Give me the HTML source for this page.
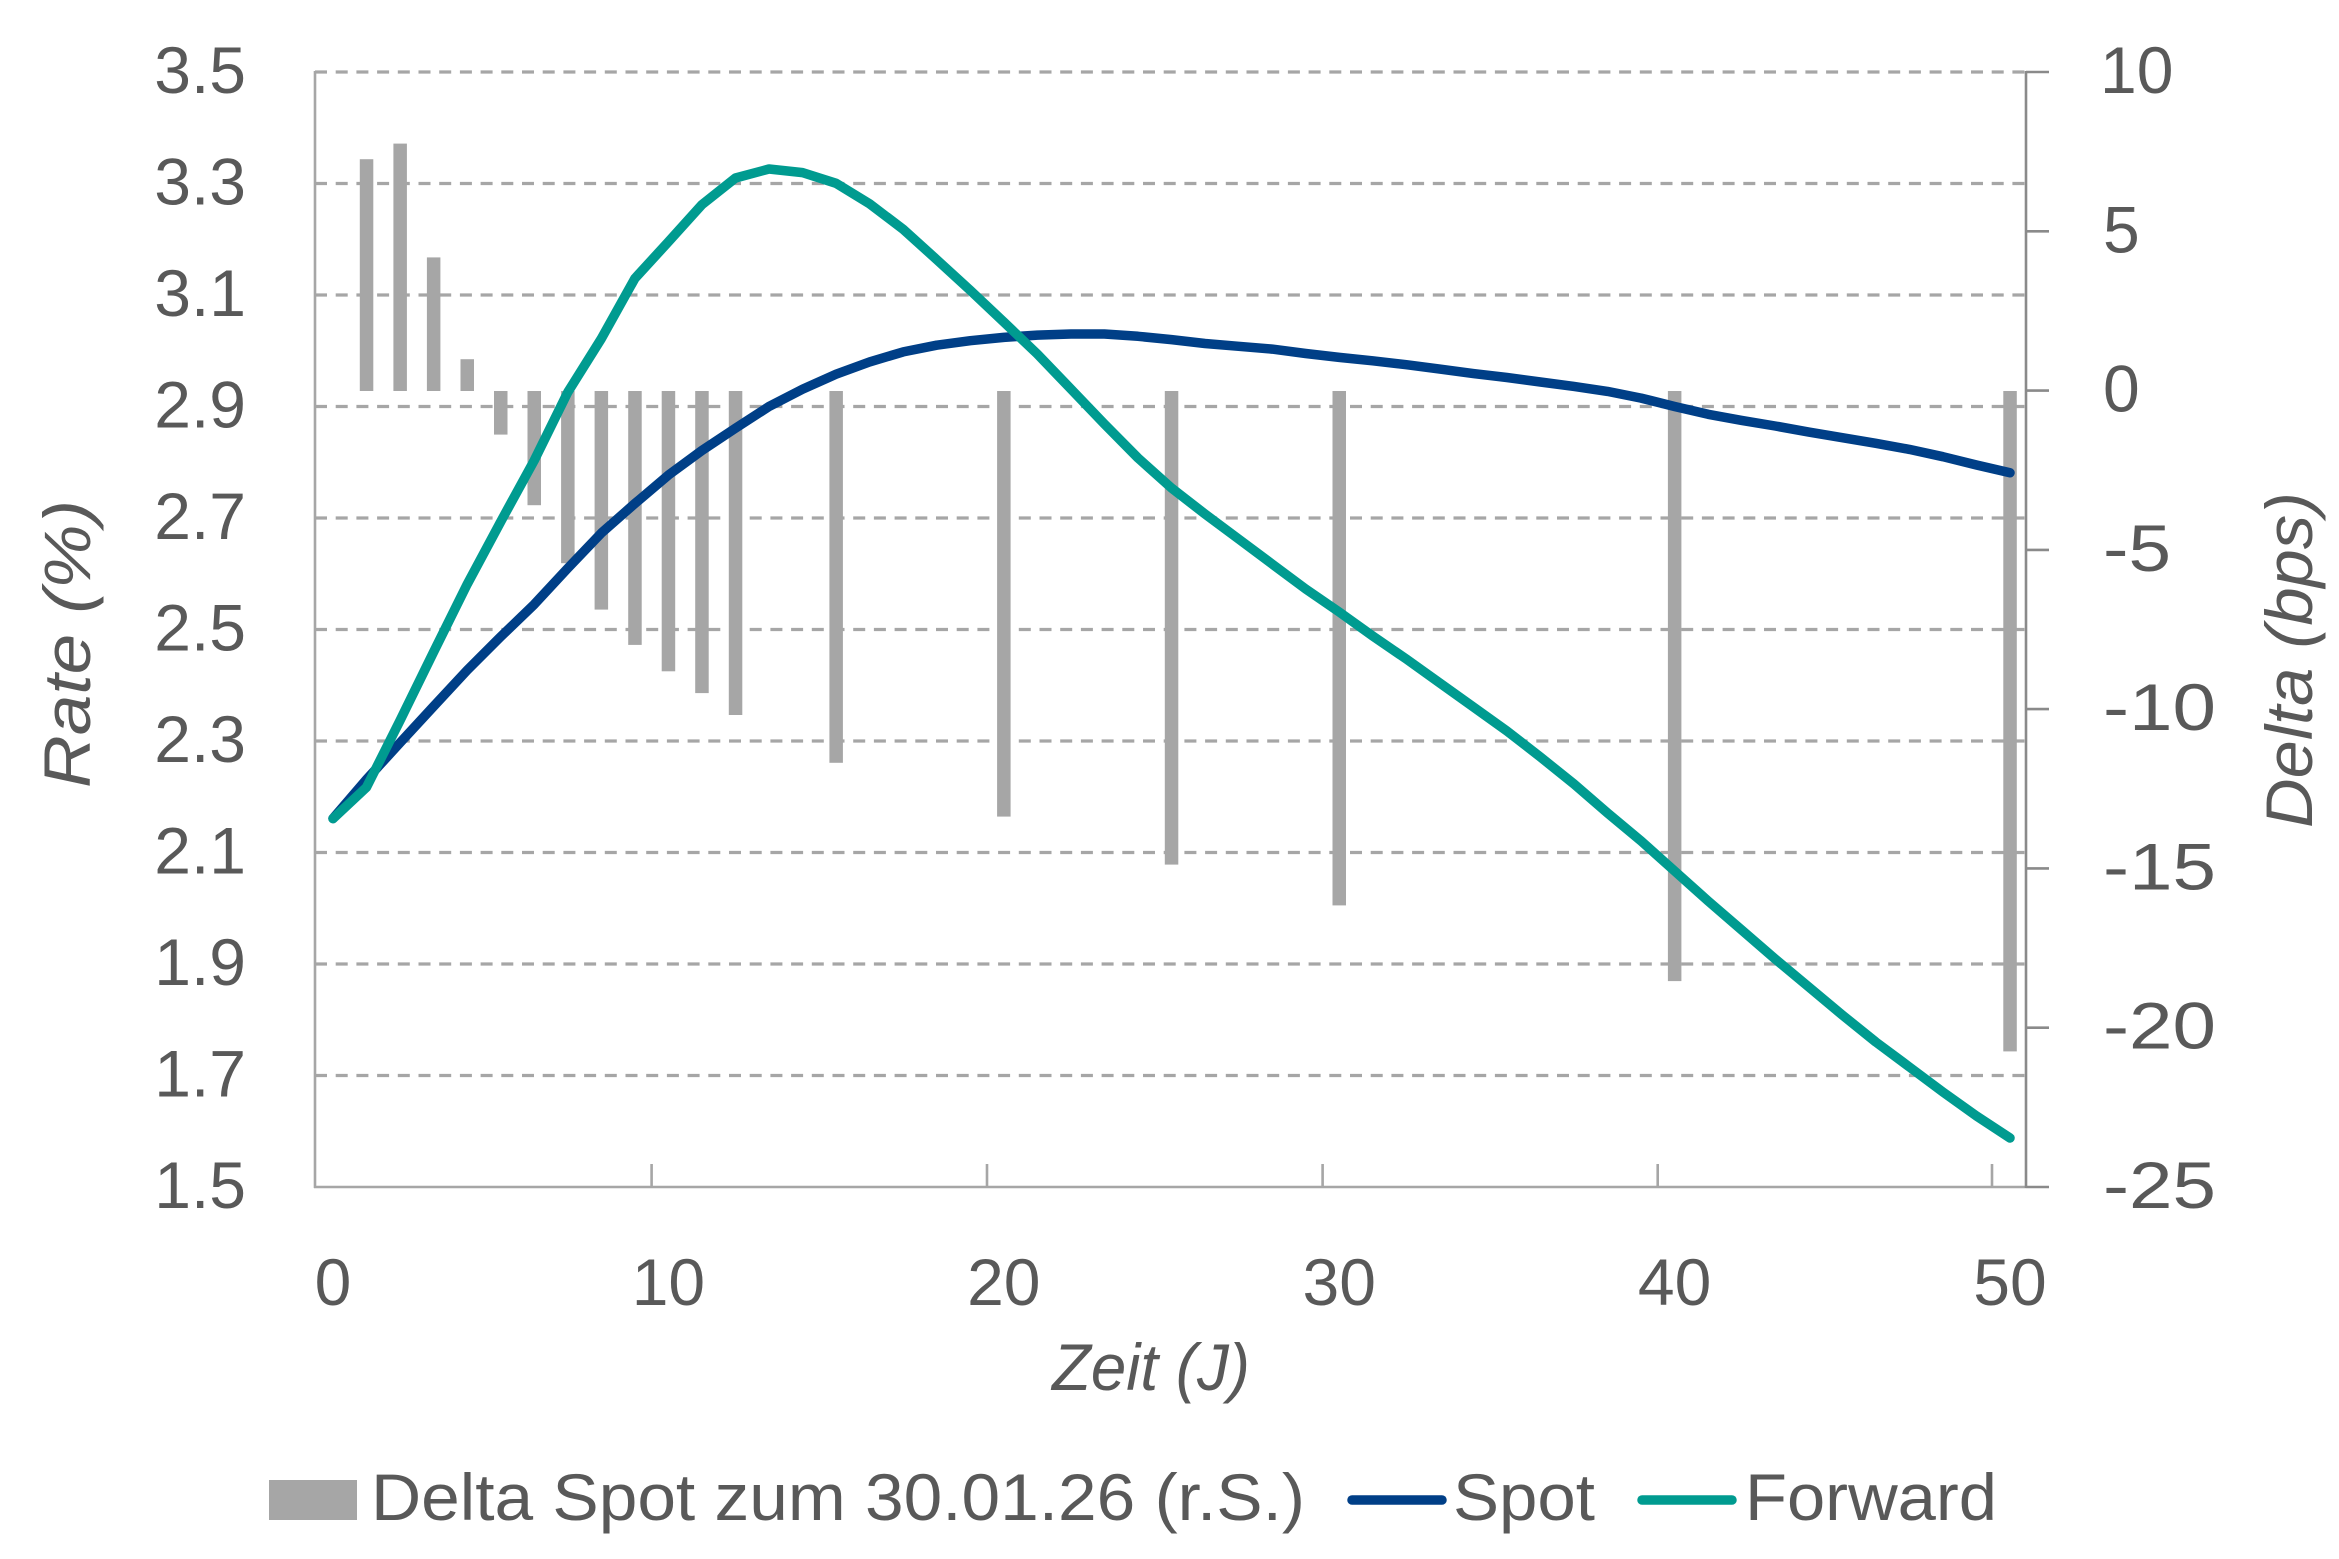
<!DOCTYPE html>
<html>
<head>
<meta charset="utf-8">
<style>
html,body{margin:0;padding:0;background:#fff;}
svg{display:block;}
text{font-family:"Liberation Sans",sans-serif;fill:#595959;}
</style>
</head>
<body>
<svg width="2339" height="1559" viewBox="0 0 2339 1559" xmlns="http://www.w3.org/2000/svg">
<rect width="2339" height="1559" fill="#fff"/>
<!-- gridlines -->
<g stroke="#a6a6a6" stroke-width="3.2" stroke-dasharray="12,8.7" fill="none">
<line x1="315" y1="72" x2="2026" y2="72"/>
<line x1="315" y1="183.5" x2="2026" y2="183.5"/>
<line x1="315" y1="295" x2="2026" y2="295"/>
<line x1="315" y1="406.5" x2="2026" y2="406.5"/>
<line x1="315" y1="518" x2="2026" y2="518"/>
<line x1="315" y1="629.5" x2="2026" y2="629.5"/>
<line x1="315" y1="741" x2="2026" y2="741"/>
<line x1="315" y1="852.5" x2="2026" y2="852.5"/>
<line x1="315" y1="964" x2="2026" y2="964"/>
<line x1="315" y1="1075.5" x2="2026" y2="1075.5"/>
</g>
<!-- bars -->
<g fill="#a6a6a6">
<rect x="359.8" y="159.2" width="13.5" height="231.8"/>
<rect x="393.4" y="143.6" width="13.5" height="247.4"/>
<rect x="426.9" y="257.4" width="13.5" height="133.6"/>
<rect x="460.5" y="359.2" width="13.5" height="31.8"/>
<rect x="494" y="391" width="13.5" height="43.6"/>
<rect x="527.5" y="391" width="13.5" height="114.2"/>
<rect x="561.1" y="391" width="13.5" height="172.2"/>
<rect x="594.6" y="391" width="13.5" height="218.6"/>
<rect x="628.2" y="391" width="13.5" height="253.9"/>
<rect x="661.7" y="391" width="13.5" height="280.3"/>
<rect x="695.2" y="391" width="13.5" height="302.1"/>
<rect x="728.8" y="391" width="13.5" height="324"/>
<rect x="829.4" y="391" width="13.5" height="371.8"/>
<rect x="997.1" y="391" width="13.5" height="425.6"/>
<rect x="1164.8" y="391" width="13.5" height="473.6"/>
<rect x="1332.5" y="391" width="13.5" height="514.4"/>
<rect x="1667.9" y="391" width="13.5" height="590.1"/>
<rect x="2003.3" y="391" width="13.5" height="660.4"/>
</g>
<!-- axes -->
<g stroke="#a6a6a6" stroke-width="2.6" fill="none">
<line x1="315" y1="71" x2="315" y2="1188"/>
<line x1="314" y1="1187" x2="2026" y2="1187"/>
<line x1="651.6" y1="1164" x2="651.6" y2="1187"/>
<line x1="987" y1="1164" x2="987" y2="1187"/>
<line x1="1322.6" y1="1164" x2="1322.6" y2="1187"/>
<line x1="1657.7" y1="1164" x2="1657.7" y2="1187"/>
<line x1="1992" y1="1164" x2="1992" y2="1187"/>
</g>
<g stroke="#8a8a8a" stroke-width="2.6" fill="none">
<line x1="2026" y1="71" x2="2026" y2="1188"/>
<line x1="2026" y1="72" x2="2049" y2="72"/>
<line x1="2026" y1="231.3" x2="2049" y2="231.3"/>
<line x1="2026" y1="390.6" x2="2049" y2="390.6"/>
<line x1="2026" y1="549.9" x2="2049" y2="549.9"/>
<line x1="2026" y1="709.1" x2="2049" y2="709.1"/>
<line x1="2026" y1="868.4" x2="2049" y2="868.4"/>
<line x1="2026" y1="1027.7" x2="2049" y2="1027.7"/>
<line x1="2026" y1="1187" x2="2049" y2="1187"/>
</g>
<!-- series -->
<polyline fill="none" stroke="#003f87" stroke-width="9.5" stroke-linejoin="round" stroke-linecap="round" points="333,818.5 366.5,779.5 400.1,742.7 433.6,706.4 467.2,670.2 500.7,636.7 534.2,604.4 567.8,568.2 601.3,533.1 634.9,503.5 668.4,475.1 701.9,450.5 735.5,428.2 769,406.5 802.6,389.2 836.1,374.2 869.6,361.9 903.2,351.9 936.7,345.2 970.3,340.7 1003.8,337.4 1037.3,335.1 1070.9,334 1104.4,334 1138,336.3 1171.5,339.6 1205,343.5 1238.6,346.3 1272.1,349.1 1305.7,353.5 1339.2,357.4 1372.7,360.8 1406.3,364.7 1439.8,369.1 1473.4,373.6 1506.9,377.5 1540.4,382 1574,386.4 1607.5,391.4 1641.1,398.1 1674.6,406.5 1708.1,414.3 1741.7,420.4 1775.2,426 1808.8,432.1 1842.3,437.7 1875.8,443.3 1909.4,449.4 1942.9,456.7 1976.5,465 2010,472.8"/>
<polyline fill="none" stroke="#009b90" stroke-width="9.5" stroke-linejoin="round" stroke-linecap="round" points="333,818.6 366.5,787.3 400.1,720.4 433.6,652 467.2,584.2 500.7,521.7 534.2,460.5 567.8,392.2 601.3,338.7 634.9,278.4 668.4,241.8 701.9,204.7 735.5,178 769,169 802.6,172.6 836.1,183.3 869.6,203.8 903.2,229.3 936.7,259.6 970.3,290.4 1003.8,322 1037.3,354 1070.9,389 1104.4,424 1138,458 1171.5,488 1205,514 1238.6,539 1272.1,564 1305.7,589 1339.2,612 1372.7,636 1406.3,659 1439.8,683 1473.4,707 1506.9,731 1540.4,757 1574,784 1607.5,813 1641.1,841 1674.6,871 1708.1,901 1741.7,930 1775.2,959 1808.8,987 1842.3,1015 1875.8,1042 1909.4,1067 1942.9,1092 1976.5,1116 2010,1138"/>
<!-- left labels -->
<g font-size="66" text-anchor="end">
<text x="246" y="93">3.5</text>
<text x="246" y="204.5">3.3</text>
<text x="246" y="316">3.1</text>
<text x="246" y="427.5">2.9</text>
<text x="246" y="539">2.7</text>
<text x="246" y="650.5">2.5</text>
<text x="246" y="762">2.3</text>
<text x="246" y="873.5">2.1</text>
<text x="246" y="985">1.9</text>
<text x="246" y="1096.5">1.7</text>
<text x="246" y="1208">1.5</text>
</g>
<!-- right labels -->
<g font-size="66" text-anchor="start">
<text x="2100" y="93">10</text>
<text x="2103" y="252.3">5</text>
<text x="2103" y="411.6">0</text>
<text x="2103" y="570.9" textLength="68" lengthAdjust="spacingAndGlyphs">-5</text>
<text x="2103" y="730.1" textLength="113" lengthAdjust="spacingAndGlyphs">-10</text>
<text x="2103" y="889.4" textLength="113" lengthAdjust="spacingAndGlyphs">-15</text>
<text x="2103" y="1048.7" textLength="113" lengthAdjust="spacingAndGlyphs">-20</text>
<text x="2103" y="1208" textLength="113" lengthAdjust="spacingAndGlyphs">-25</text>
</g>
<!-- x labels -->
<g font-size="66" text-anchor="middle">
<text x="333" y="1305">0</text>
<text x="668.4" y="1305">10</text>
<text x="1003.8" y="1305">20</text>
<text x="1339.2" y="1305">30</text>
<text x="1674.6" y="1305">40</text>
<text x="2010" y="1305">50</text>
</g>
<!-- axis titles -->
<text font-size="66" font-style="italic" text-anchor="middle" x="1151" y="1390" textLength="198" lengthAdjust="spacingAndGlyphs">Zeit (J)</text>
<text font-size="66" font-style="italic" text-anchor="middle" transform="translate(90,644) rotate(-90)" x="0" y="0" textLength="288" lengthAdjust="spacingAndGlyphs">Rate (%)</text>
<text font-size="66" font-style="italic" text-anchor="middle" transform="translate(2312,660) rotate(-90)" x="0" y="0" textLength="336" lengthAdjust="spacingAndGlyphs">Delta (bps)</text>
<!-- legend -->
<rect x="269" y="1480" width="88" height="40" fill="#a6a6a6"/>
<text font-size="66" x="371" y="1520" textLength="934" lengthAdjust="spacingAndGlyphs">Delta Spot zum 30.01.26 (r.S.)</text>
<line x1="1352" y1="1500" x2="1442" y2="1500" stroke="#003f87" stroke-width="9.5" stroke-linecap="round"/>
<text font-size="66" x="1453" y="1520" textLength="142" lengthAdjust="spacingAndGlyphs">Spot</text>
<line x1="1642" y1="1500" x2="1732" y2="1500" stroke="#009b90" stroke-width="9.5" stroke-linecap="round"/>
<text font-size="66" x="1745" y="1520" textLength="252" lengthAdjust="spacingAndGlyphs">Forward</text>
</svg>
</body>
</html>
